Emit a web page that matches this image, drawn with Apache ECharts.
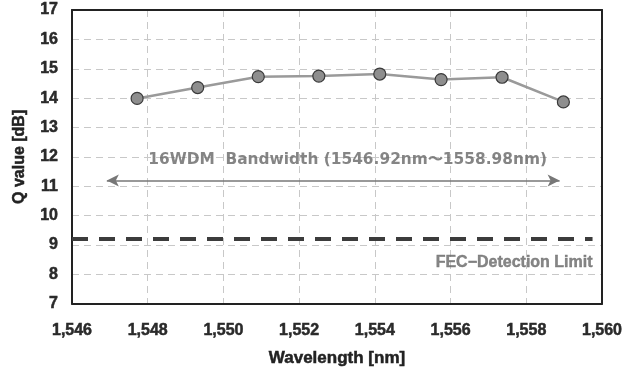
<!DOCTYPE html>
<html><head><meta charset="utf-8">
<script src="https://cdn.jsdelivr.net/npm/echarts@6/dist/echarts.min.js"></script>
<style>html,body{margin:0;padding:0;background:#fff}#c{width:633px;height:372px}</style>
</head><body><div id="c"></div>
<script>
const wavelengths = [1547.72, 1549.32, 1550.92, 1552.52, 1554.13, 1555.75, 1557.36, 1558.98];
const qValues = [13.99, 14.36, 14.73, 14.75, 14.82, 14.63, 14.71, 13.87];
const fecLimit = 9.2;
const bandStart = 1546.92, bandEnd = 1558.98;
const bandLabel = '16WDM  Bandwidth (1546.92nm\u301c1558.98nm)';
const fecLabel = 'FEC\u2212Detection Limit';

const chart = echarts.init(document.getElementById('c'));
const font = "'Liberation Sans', Arial, sans-serif";
const heavy = {fontFamily: font, fontWeight: 'bold', textBorderWidth: 0.5};
chart.setOption({
  animation: false,
  grid: {left: 72, right: 31, top: 10, bottom: 67},
  xAxis: [{
    type: 'value', min: 1546, max: 1560, interval: 2,
    name: 'Wavelength [nm]', nameLocation: 'middle', nameGap: 46,
    nameTextStyle: Object.assign({fontSize: 17, color: '#222', textBorderColor: '#222'}, heavy),
    axisLine: {show: true, onZero: false, lineStyle: {color: '#222', width: 2}},
    axisTick: {show: false},
    axisLabel: Object.assign({fontSize: 16, color: '#2a2a2a', textBorderColor: '#2a2a2a', margin: 19,
      formatter: v => v.toLocaleString('en-US')}, heavy),
    splitLine: {show: true, showMinLine: false, showMaxLine: false, lineStyle: {color: '#c8c8c8', type: [7, 5], width: 1}}
  }, {
    type: 'value', min: 1546, max: 1560, position: 'top',
    axisLine: {show: true, onZero: false, lineStyle: {color: '#222', width: 2}},
    axisTick: {show: false}, axisLabel: {show: false}, splitLine: {show: false}
  }],
  yAxis: [{
    type: 'value', min: 7, max: 17, interval: 1,
    name: 'Q value [dB]', nameLocation: 'middle', nameGap: 44,
    nameTextStyle: Object.assign({fontSize: 16, color: '#222', textBorderColor: '#222'}, heavy),
    axisLine: {show: true, onZero: false, lineStyle: {color: '#222', width: 2}},
    axisTick: {show: false},
    axisLabel: Object.assign({fontSize: 16, color: '#2a2a2a', textBorderColor: '#2a2a2a', margin: 14}, heavy),
    splitLine: {show: true, showMinLine: false, showMaxLine: false, lineStyle: {color: '#c8c8c8', type: [7, 5], width: 1}}
  }, {
    type: 'value', min: 7, max: 17, position: 'right',
    axisLine: {show: true, onZero: false, lineStyle: {color: '#222', width: 2}},
    axisTick: {show: false}, axisLabel: {show: false}, splitLine: {show: false}
  }],
  series: [
    {
      type: 'line',
      data: wavelengths.map((w, i) => [w, qValues[i]]),
      symbol: 'circle', symbolSize: 12,
      lineStyle: {color: '#9a9a9a', width: 2.5},
      itemStyle: {color: '#8e8e8e', borderColor: '#3a3a3a', borderWidth: 1.2},
      z: 5,
      markLine: {
        silent: true, symbol: 'none',
        data: [
          [{coord: [1546, fecLimit], lineStyle: {color: '#3c3c3c', width: 4, type: [16, 11]}},
           {coord: [1559.75, fecLimit]}],
          [{coord: [bandStart, 11.2], symbol: 'arrow', lineStyle: {color: '#777', width: 1.5, type: 'solid'}},
           {coord: [bandEnd - 0.1, 11.2], symbol: 'arrow'}]
        ],
        symbolSize: [9, 12],
        label: {show: false}
      }
    },
    {
      type: 'scatter', symbolSize: 0, silent: true,
      data: [{value: [1553.28, 11.9], label: {show: true, formatter: bandLabel, position: 'inside',
        fontFamily: "'DejaVu Sans', sans-serif", fontWeight: 'bold', fontSize: 15.4, color: '#666'}},
        {value: [1559.75, 8.4], label: {show: true, formatter: fecLabel, position: 'left', distance: 0,
        fontFamily: font, fontWeight: 'bold', fontSize: 16, color: '#666', textBorderColor: '#666', textBorderWidth: 0.4}}]
    }
  ]
});
</script></body></html>
